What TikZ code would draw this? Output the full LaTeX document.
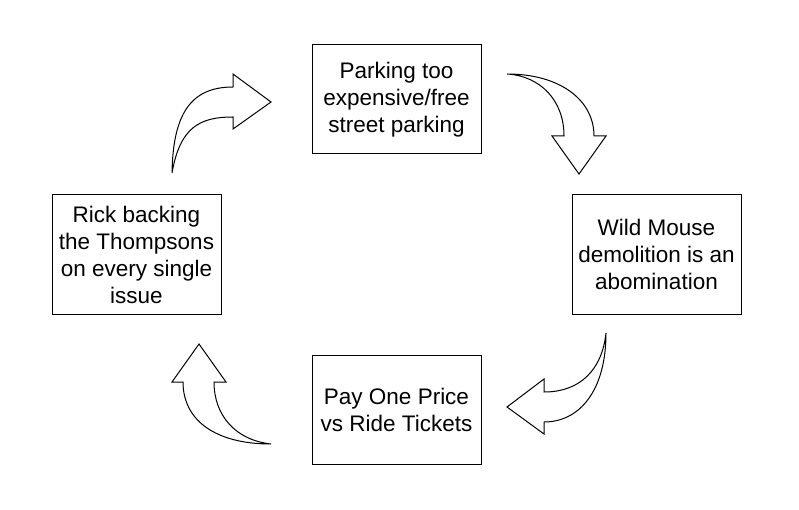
\documentclass[tikz,border=0pt]{standalone}
\usepackage{fontspec}
\setmainfont{Liberation Sans}
\begin{document}
\begin{tikzpicture}[x=1pt,y=-1pt,
  box/.style={draw,line width=1pt,minimum width=169pt,minimum height=109pt,align=center,inner sep=0pt,font=\fontsize{22.5}{27}\selectfont},
  blockarrow/.style={draw,line width=1pt,fill=white,line join=miter}]
\useasboundingbox (0,0) rectangle (799,510);
\fill[white] (0,0) rectangle (799,510);
\node[box] (top) at (396.5,99.5) {Parking too\\expensive/free\\street parking};
\node[box,minimum height=119pt] (right) at (656.5,254.5) {Wild Mouse\\demolition is an\\abomination};
\node[box] (bottom) at (396.5,409.5) {Pay One Price\\vs Ride Tickets};
\node[box,minimum height=119pt] (left) at (136.5,254.5) {Rick backing\\the Thompsons\\on every single\\issue};
% arrow left -> top
\draw[blockarrow] (172,173) .. controls (173,115) and (190,87) .. (233,87)
  -- (233,74) -- (271,102) -- (233,129) -- (233,117)
  .. controls (200,117) and (180,127) .. (172,173) -- cycle;
% arrow top -> right
\draw[blockarrow] (507,74) .. controls (560,74) and (594,100) .. (594,136)
  -- (606,136) -- (579,174) -- (552,136) -- (564,136)
  .. controls (564,100) and (540,76) .. (507,74) -- cycle;
% arrow right -> bottom
\draw[blockarrow] (606,333) .. controls (606,390) and (580,422) .. (544,422)
  -- (544,434) -- (507,407) -- (544,379) -- (544,392)
  .. controls (580,392) and (602,370) .. (606,333) -- cycle;
% arrow bottom -> left
\draw[blockarrow] (271,444) .. controls (215,444) and (183,420) .. (183,382)
  -- (172,382) -- (199,344) -- (226,382) -- (214,382)
  .. controls (214,415) and (235,440) .. (271,444) -- cycle;
\end{tikzpicture}
\end{document}
